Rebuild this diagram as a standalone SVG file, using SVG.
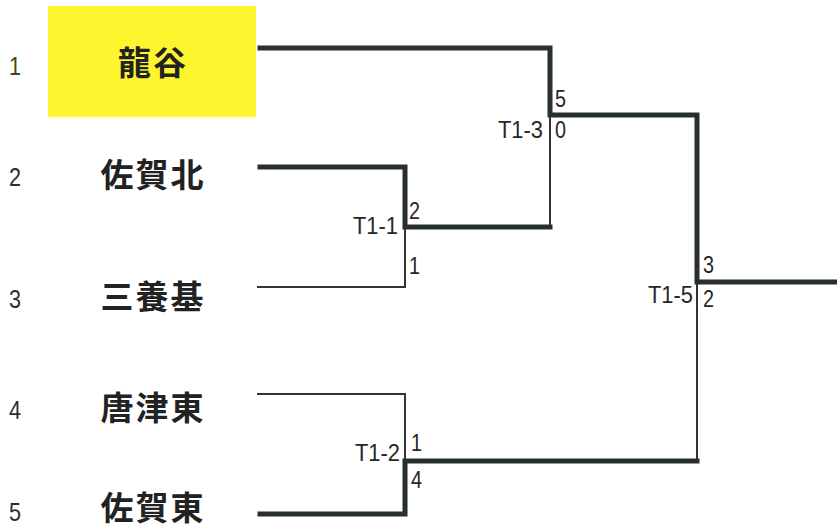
<svg xmlns="http://www.w3.org/2000/svg" width="837" height="532" viewBox="0 0 837 532">
<style>
.seed{font-family:"Liberation Sans",Arial,sans-serif;font-size:25px;fill:#2e2e2e}
.team{font-family:"Noto Sans CJK JP","Noto Sans CJK SC",sans-serif;font-size:33px;font-weight:600;fill:#222;text-anchor:middle;letter-spacing:2px}
.lbl{font-family:"Liberation Sans",Arial,sans-serif;font-size:23px;fill:#262626}
.thick{fill:none;stroke:#27302d;stroke-width:5;stroke-linejoin:miter;stroke-linecap:square}
.thin{fill:none;stroke:#333;stroke-width:2;stroke-linecap:square}
</style>
<rect width="837" height="532" fill="#ffffff"/>
<g id="team1">
<rect x="48" y="6" width="208" height="111" fill="#fff52e"/>
<text class="seed" x="9" y="75" textLength="12" lengthAdjust="spacingAndGlyphs" style="fill:#45451a">1</text>
<text class="team" x="153" y="75">龍谷</text>
</g>
<g id="team2">
<text class="seed" x="9" y="186" textLength="12" lengthAdjust="spacingAndGlyphs">2</text>
<text class="team" x="153" y="187">佐賀北</text>
</g>
<g id="team3">
<text class="seed" x="9" y="308" textLength="12" lengthAdjust="spacingAndGlyphs">3</text>
<text class="team" x="153" y="309">三養基</text>
</g>
<g id="team4">
<text class="seed" x="9" y="419" textLength="12" lengthAdjust="spacingAndGlyphs">4</text>
<text class="team" x="153" y="420">唐津東</text>
</g>
<g id="team5">
<text class="seed" x="9" y="521" textLength="12" lengthAdjust="spacingAndGlyphs">5</text>
<text class="team" x="153" y="520">佐賀東</text>
</g>
<g id="connectors">
<path class="thin" d="M550 227 V115"/>
<path class="thin" d="M258 287 H405 V227"/>
<path class="thin" d="M258 394 H405 V461"/>
<path class="thin" d="M697 461 V282"/>
<path class="thick" d="M260 48 H550 V115 H697 V282 H837"/>
<path class="thick" d="M260 167 H405 V227 H550"/>
<path class="thick" d="M260 514 H405 V461 H697"/>
</g>
<g id="match-T1-1">
<text class="lbl" x="353" y="234" textLength="45" lengthAdjust="spacingAndGlyphs">T1-1</text>
<text class="lbl" x="409" y="219" textLength="11" lengthAdjust="spacingAndGlyphs">2</text>
<text class="lbl" x="409" y="274" textLength="11" lengthAdjust="spacingAndGlyphs">1</text>
</g>
<g id="match-T1-2">
<text class="lbl" x="355" y="461" textLength="45" lengthAdjust="spacingAndGlyphs">T1-2</text>
<text class="lbl" x="411" y="451" textLength="11" lengthAdjust="spacingAndGlyphs">1</text>
<text class="lbl" x="411" y="488" textLength="11" lengthAdjust="spacingAndGlyphs">4</text>
</g>
<g id="match-T1-3">
<text class="lbl" x="498" y="138" textLength="45" lengthAdjust="spacingAndGlyphs">T1-3</text>
<text class="lbl" x="555" y="107" textLength="11" lengthAdjust="spacingAndGlyphs">5</text>
<text class="lbl" x="555" y="138" textLength="11" lengthAdjust="spacingAndGlyphs">0</text>
</g>
<g id="match-T1-5">
<text class="lbl" x="648" y="303" textLength="45" lengthAdjust="spacingAndGlyphs">T1-5</text>
<text class="lbl" x="703" y="273" textLength="11" lengthAdjust="spacingAndGlyphs">3</text>
<text class="lbl" x="703" y="307" textLength="11" lengthAdjust="spacingAndGlyphs">2</text>
</g>
</svg>
